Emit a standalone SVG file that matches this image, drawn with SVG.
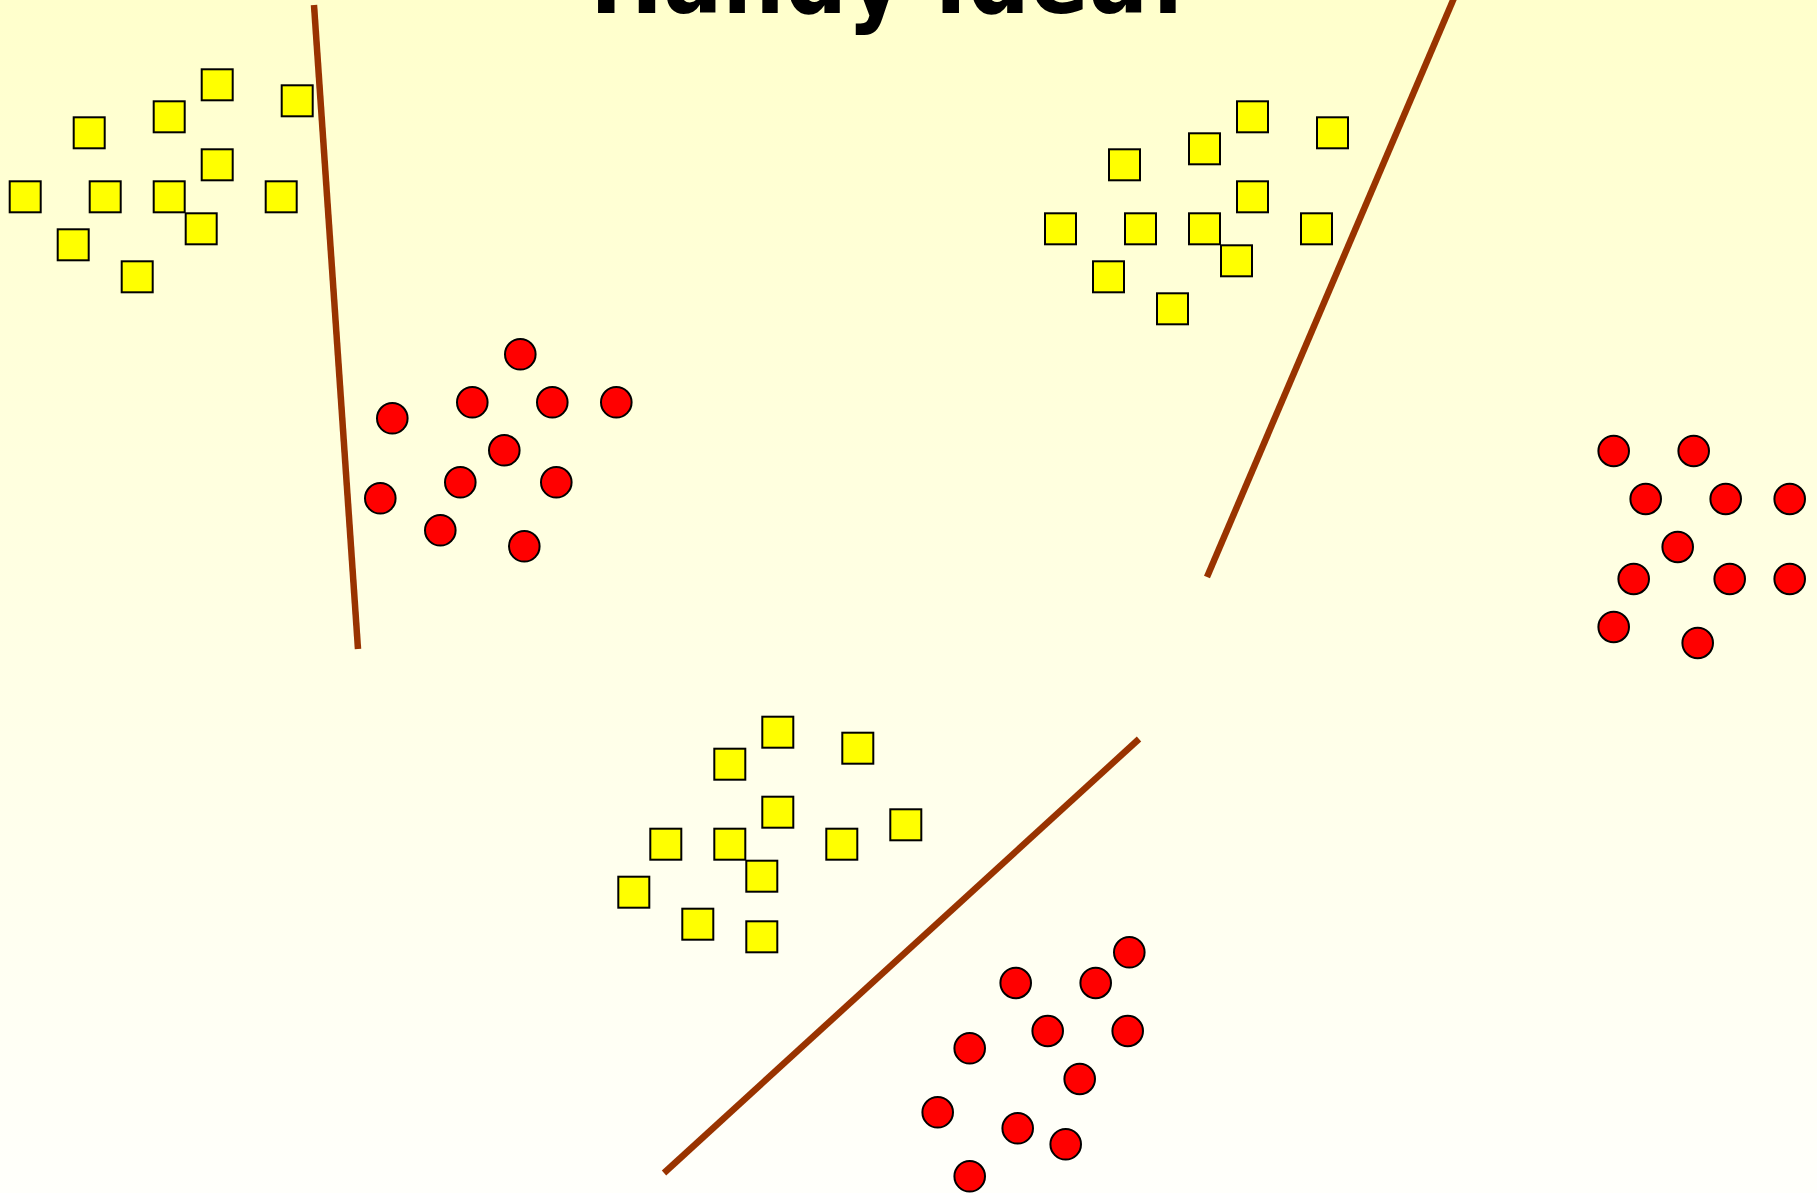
<svg xmlns="http://www.w3.org/2000/svg" width="1817" height="1193" viewBox="0 0 1817 1193">
  <defs>
    <linearGradient id="bg" x1="0" y1="0" x2="0" y2="1">
      <stop offset="0" stop-color="#FFFFCC"/>
      <stop offset="1" stop-color="#FFFFFB"/>
    </linearGradient>
    <style>
      .sq { fill: #FFFF00; stroke: #000; stroke-width: 2; }
      .dot { fill: #FF0000; stroke: #000; stroke-width: 2; }
      .sep { stroke: #993300; stroke-width: 6.5; fill: none; }
      .title { font-family: "DejaVu Sans", "Liberation Sans", sans-serif; font-weight: bold; font-size: 100px; fill: #000; }
    </style>
  </defs>

  <rect x="0" y="0" width="1817" height="1193" fill="url(#bg)"/>

  <text class="title" x="590" y="13" textLength="598" lengthAdjust="spacingAndGlyphs">Handy Idea!</text>

  <!-- separating lines -->
  <g id="separators">
    <line class="sep" x1="314" y1="5" x2="358" y2="649"/>
    <line class="sep" x1="1454" y1="-2" x2="1207" y2="577"/>
    <line class="sep" x1="664" y1="1173" x2="1139" y2="739"/>
  </g>

  <!-- top-left squares -->
  <g id="squares-a">
    <rect class="sq" x="201.7" y="69.3" width="31" height="31"/>
    <rect class="sq" x="281.7" y="85.3" width="31" height="31"/>
    <rect class="sq" x="153.7" y="101.3" width="31" height="31"/>
    <rect class="sq" x="73.7" y="117.3" width="31" height="31"/>
    <rect class="sq" x="201.7" y="149.3" width="31" height="31"/>
    <rect class="sq" x="9.7" y="181.3" width="31" height="31"/>
    <rect class="sq" x="89.7" y="181.3" width="31" height="31"/>
    <rect class="sq" x="153.7" y="181.3" width="31" height="31"/>
    <rect class="sq" x="265.7" y="181.3" width="31" height="31"/>
    <rect class="sq" x="185.7" y="213.3" width="31" height="31"/>
    <rect class="sq" x="57.7" y="229.3" width="31" height="31"/>
    <rect class="sq" x="121.7" y="261.3" width="31" height="31"/>
  </g>

  <!-- top-right squares -->
  <g id="squares-b">
    <rect class="sq" x="1237" y="101.3" width="31" height="31"/>
    <rect class="sq" x="1317" y="117.3" width="31" height="31"/>
    <rect class="sq" x="1189" y="133.3" width="31" height="31"/>
    <rect class="sq" x="1109" y="149.3" width="31" height="31"/>
    <rect class="sq" x="1237" y="181.3" width="31" height="31"/>
    <rect class="sq" x="1045" y="213.3" width="31" height="31"/>
    <rect class="sq" x="1125" y="213.3" width="31" height="31"/>
    <rect class="sq" x="1189" y="213.3" width="31" height="31"/>
    <rect class="sq" x="1301" y="213.3" width="31" height="31"/>
    <rect class="sq" x="1221" y="245.3" width="31" height="31"/>
    <rect class="sq" x="1093" y="261.3" width="31" height="31"/>
    <rect class="sq" x="1157" y="293.3" width="31" height="31"/>
  </g>

  <!-- lower squares -->
  <g id="squares-c">
    <rect class="sq" x="762.3" y="716.7" width="31" height="31"/>
    <rect class="sq" x="842.3" y="732.7" width="31" height="31"/>
    <rect class="sq" x="714.3" y="748.7" width="31" height="31"/>
    <rect class="sq" x="762.3" y="796.7" width="31" height="31"/>
    <rect class="sq" x="890.3" y="809.3" width="31" height="31"/>
    <rect class="sq" x="650.3" y="828.7" width="31" height="31"/>
    <rect class="sq" x="714.3" y="828.7" width="31" height="31"/>
    <rect class="sq" x="826.3" y="828.7" width="31" height="31"/>
    <rect class="sq" x="746.3" y="860.7" width="31" height="31"/>
    <rect class="sq" x="618.3" y="876.7" width="31" height="31"/>
    <rect class="sq" x="682.3" y="908.7" width="31" height="31"/>
    <rect class="sq" x="746.3" y="921.3" width="31" height="31"/>
  </g>

  <!-- circles next to the left line -->
  <g id="circles-a">
    <circle class="dot" cx="520.3" cy="354.3" r="15.3"/>
    <circle class="dot" cx="472.3" cy="402.3" r="15.3"/>
    <circle class="dot" cx="552.3" cy="402.3" r="15.3"/>
    <circle class="dot" cx="616.3" cy="402.3" r="15.3"/>
    <circle class="dot" cx="392.3" cy="418.3" r="15.3"/>
    <circle class="dot" cx="504.3" cy="450.3" r="15.3"/>
    <circle class="dot" cx="460.3" cy="482.3" r="15.3"/>
    <circle class="dot" cx="556.3" cy="482.3" r="15.3"/>
    <circle class="dot" cx="380.3" cy="498.3" r="15.3"/>
    <circle class="dot" cx="440.3" cy="530.3" r="15.3"/>
    <circle class="dot" cx="524.3" cy="546.3" r="15.3"/>
  </g>

  <!-- circles on the right edge -->
  <g id="circles-b">
    <circle class="dot" cx="1613.7" cy="451" r="15.3"/>
    <circle class="dot" cx="1693.7" cy="451" r="15.3"/>
    <circle class="dot" cx="1645.7" cy="499" r="15.3"/>
    <circle class="dot" cx="1725.7" cy="499" r="15.3"/>
    <circle class="dot" cx="1789.7" cy="499" r="15.3"/>
    <circle class="dot" cx="1677.7" cy="547" r="15.3"/>
    <circle class="dot" cx="1633.7" cy="579" r="15.3"/>
    <circle class="dot" cx="1729.7" cy="579" r="15.3"/>
    <circle class="dot" cx="1789.7" cy="579" r="15.3"/>
    <circle class="dot" cx="1613.7" cy="627" r="15.3"/>
    <circle class="dot" cx="1697.7" cy="643" r="15.3"/>
  </g>

  <!-- circles below the diagonal line -->
  <g id="circles-c">
    <circle class="dot" cx="1129.3" cy="952.3" r="15.3"/>
    <circle class="dot" cx="1015.7" cy="983" r="15.3"/>
    <circle class="dot" cx="1095.7" cy="983" r="15.3"/>
    <circle class="dot" cx="1047.7" cy="1031" r="15.3"/>
    <circle class="dot" cx="1127.7" cy="1031" r="15.3"/>
    <circle class="dot" cx="969.7" cy="1048.3" r="15.3"/>
    <circle class="dot" cx="1079.7" cy="1079" r="15.3"/>
    <circle class="dot" cx="937.7" cy="1112.3" r="15.3"/>
    <circle class="dot" cx="1017.7" cy="1128.3" r="15.3"/>
    <circle class="dot" cx="1065.7" cy="1144.3" r="15.3"/>
    <circle class="dot" cx="969.7" cy="1176.3" r="15.3"/>
  </g>
</svg>
